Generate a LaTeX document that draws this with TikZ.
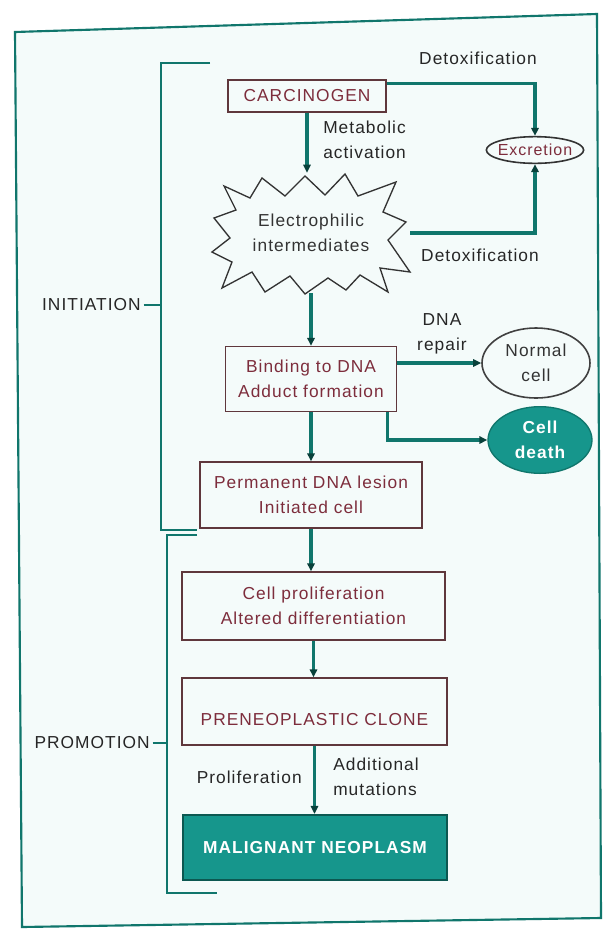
\documentclass[tikz,border=0pt]{standalone}
\usepackage{fontspec}
\setmainfont{Liberation Sans}[LetterSpace=6]
\usetikzlibrary{arrows.meta,shapes.geometric,calc}
\definecolor{tealline}{RGB}{16,118,108}
\definecolor{tealfill}{RGB}{22,150,140}
\definecolor{boxtext}{RGB}{125,45,60}
\definecolor{boxedge}{RGB}{95,55,60}
\definecolor{bg}{RGB}{244,251,250}
\begin{document}
\begin{tikzpicture}[x=0.75pt,y=-0.75pt,
  every node/.style={font=\fontsize{13}{19}\selectfont},
  flowbox/.style={rectangle,draw=boxedge,line width=1pt,text=boxtext,align=center,inner sep=0pt},
  lbl/.style={text=black!85,align=center,inner sep=0pt},
  conn/.style={draw=tealline,line width=2.4pt},
  arr/.style={conn,-{Triangle[length=6pt,width=5.5pt,color=tealline!55!black]}},
  bracket/.style={draw=tealline,line width=1.6pt},
  oval/.style={ellipse,inner sep=0pt,align=center}]

\useasboundingbox (0,0) rectangle (605,929);
\fill[white] (0,0) rectangle (605,929);
\draw[tealline,line width=1.6pt,fill=bg] (15,32) -- (597,14) -- (601,918) -- (22,927) -- cycle;

% main column
\node[flowbox,minimum width=118.5pt,minimum height=24pt] (carc) at (307,96) {CARCINOGEN};
\node[inner sep=0pt,minimum width=148.5pt,minimum height=90pt,align=center,text=black!80] (elec) at (311,233) {Electrophilic\\intermediates};
\draw[black!80,line width=1pt,line join=miter]
  (224,186) -- (250,198) -- (262,178) -- (285,196) -- (305,176) -- (325,195) -- (345,174)
  -- (358,196) -- (396,182) -- (383,212) -- (406,222) -- (388,240) -- (410,272) -- (380,268)
  -- (388,292) -- (360,275) -- (346,290) -- (328,278) -- (305,294) -- (290,276) -- (265,292)
  -- (252,272) -- (222,288) -- (232,262) -- (212,252) -- (230,238) -- (214,218) -- (236,210) -- cycle;
\node[flowbox,minimum width=128.25pt,minimum height=48.75pt] (bind) at (311,379) {Binding to DNA\\Adduct formation};
\node[flowbox,minimum width=166.5pt,minimum height=49.5pt] (perm) at (311,495) {Permanent DNA lesion\\Initiated cell};
\node[flowbox,minimum width=197.25pt,minimum height=51pt] (prolif) at (313.5,606) {Cell proliferation\\Altered differentiation};
\node[flowbox,minimum width=198.75pt,minimum height=50.25pt] (preneo) at (314.5,711.5) {\raisebox{-6pt}[\height][\depth]{PRENEOPLASTIC CLONE}};
\node[rectangle,draw=tealline!75!black,line width=1.6pt,fill=tealfill,minimum width=198pt,minimum height=48.75pt,text=white,font=\fontsize{13}{19}\selectfont\bfseries] (malig) at (315,847.5) {MALIGNANT NEOPLASM};

% side nodes
\node[oval,draw=black!80,line width=1.2pt,minimum width=73pt,minimum height=20pt] (excr) at (535,150) {};
\node[text=boxtext,inner sep=0pt,font=\fontsize{12}{14}\selectfont] (excrt) at (excr) {Excretion};
\node[oval,draw=black!75,line width=1.2pt,minimum width=81pt,minimum height=52.5pt,text=black!80] (normal) at (536,363) {Normal\\cell};
\node[oval,draw=tealline,fill=tealfill,line width=1pt,minimum width=78pt,minimum height=50pt,text=white,font=\fontsize{13}{19}\selectfont\bfseries] (death) at (540,440) {Cell\\death};

% labels
\node[lbl] (detox1) at (478,58) {Detoxification};
\node[lbl] (detox2) at (480,255) {Detoxification};
\node[lbl,align=left,anchor=west] (metab) at (323,140) {Metabolic\\activation};
\node[lbl] (dnarep) at (442,334) {DNA\\repair};
\node[lbl,anchor=east] (prolab) at (302,777) {Proliferation};
\node[lbl,align=left,anchor=west] (addmut) at (333,777) {Additional\\mutations};
\node[lbl,anchor=east] (init) at (141,305) {INITIATION};
\node[lbl,anchor=east] (promo) at (150,743) {PROMOTION};

% brackets
\draw[bracket] (210,63) -- (161,63) -- (161,530) -- (197,530);
\draw[bracket] (197,535) -- (167,535) -- (167,893) -- (217,893);
\coordinate (ib) at (161,305);
\coordinate (pb) at (167,743);
\draw[bracket,line width=1.2pt] ([xshift=2pt]init.east) -- (init.east -| ib);
\draw[bracket,line width=1.2pt] ([xshift=2pt]promo.east) -- (promo.east -| pb);

% connectors
\draw[arr] ([yshift=-3pt]carc.north east) -| (excr.north);
\draw[arr] (elec.east) -| (excr.south);
\draw[arr] (carc.south) -- (carc.south |- elec.north);
\draw[arr] (elec.south) -- (elec.south |- bind.north);
\draw[arr] (bind.east |- normal.west) -- (normal.west);
\draw[arr] ([xshift=-7.5pt]bind.south east) |- (death.west);
\draw[arr] (bind.south) -- (bind.south |- perm.north);
\draw[arr] (perm.south) -- (perm.south |- prolif.north);
\draw[arr] (prolif.south) -- (prolif.south |- preneo.north);
\draw[arr] (preneo.south) -- (preneo.south |- malig.north);
\end{tikzpicture}
\end{document}
